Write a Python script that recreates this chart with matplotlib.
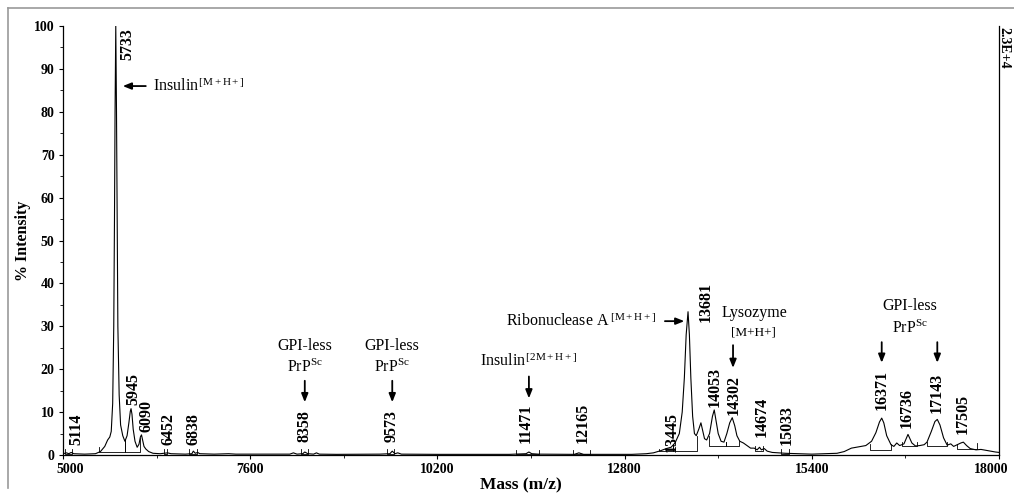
import matplotlib
matplotlib.use("Agg")
import matplotlib.pyplot as plt
import matplotlib.transforms as mtransforms
from matplotlib.lines import Line2D

plt.rcParams["font.family"] = ["Liberation Serif", "DejaVu Serif"]
plt.rcParams["mathtext.fontset"] = "custom"
plt.rcParams["mathtext.rm"] = "Liberation Serif"
plt.rcParams["mathtext.it"] = "Liberation Serif:italic"
plt.rcParams["mathtext.bf"] = "Liberation Serif:bold"

# Spectrum trace: mass (m/z) and % intensity
mass = [5000, 5050, 5080, 5114, 5150, 5300, 5450, 5520, 5580, 5620, 5650, 5670, 5690,
        5705, 5715, 5723, 5733, 5743, 5752, 5762, 5780, 5800, 5830, 5860, 5890, 5915,
        5935, 5945, 5958, 5975, 6000, 6030, 6055, 6075, 6090, 6105, 6125, 6150, 6190,
        6250, 6350, 6452, 6500, 6700, 6790, 6810, 6838, 6870, 6900, 7100, 7300, 7400,
        7600, 8000, 8150, 8200, 8250, 8330, 8358, 8400, 8480, 8520, 8560, 8800, 9400,
        9540, 9573, 9610, 9650, 9700, 10200, 11200, 11430, 11471, 11510, 11600, 12100,
        12165, 12230, 12900, 13100, 13200, 13300, 13380, 13445, 13500, 13560, 13600,
        13630, 13655, 13681, 13700, 13720, 13745, 13770, 13795, 13830, 13860, 13880,
        13910, 13940, 13980, 14020, 14045, 14070, 14100, 14140, 14180, 14220, 14260,
        14295, 14330, 14360, 14400, 14450, 14500, 14550, 14600, 14640, 14674, 14700,
        14740, 14780, 14850, 14950, 15033, 15200, 15400, 15600, 15750, 15850, 15950,
        16050, 16150, 16230, 16290, 16340, 16371, 16400, 16440, 16500, 16540, 16580,
        16620, 16680, 16736, 16790, 16840, 16900, 16960, 17000, 17060, 17110, 17143,
        17180, 17230, 17280, 17330, 17370, 17420, 17470, 17505, 17550, 17600, 17680,
        17750, 17850, 17950, 18000]
intensity = [0.3, 0.5, 0.3, 0.6, 0.3, 0.2, 0.3, 0.8, 2.0, 3.5, 4.2, 5.5, 12,
             30, 55, 80, 100, 80, 55, 30, 14, 7, 4.5, 3.2, 4.5, 7.5,
             10.2, 10.8, 9.5, 6, 3.2, 1.8, 2.5, 4.2, 4.7, 3.5, 2.0, 1.4, 0.8,
             0.4, 0.3, 0.5, 0.3, 0.2, 0.3, 0.9, 0.4, 0.6, 0.3, 0.2, 0.3, 0.2,
             0.2, 0.2, 0.2, 0.5, 0.2, 0.3, 0.7, 0.3, 0.2, 0.5, 0.2, 0.15, 0.2,
             0.3, 0.9, 0.3, 0.5, 0.2, 0.15, 0.15, 0.3, 0.7, 0.3, 0.2, 0.15,
             0.5, 0.15, 0.15, 0.3, 0.5, 1.0, 1.5, 1.8, 2.8, 5, 10,
             18, 28, 33.4, 28, 18, 9, 5, 4.5, 6, 7.5, 6,
             3.8, 3.5, 5, 9, 10.5, 8, 5, 3.2, 3.0, 5, 7.5,
             8.7, 6.8, 4.5, 3.2, 2.8, 2.2, 1.6, 1.6, 1.2, 1.8, 1.2,
             1.5, 0.9, 0.6, 0.5, 0.4, 0.3, 0.2, 0.3, 0.4, 0.8, 1.6,
             1.9, 2.2, 3.2, 5.2, 7.7, 8.6, 7.5, 4.5, 2.4, 2.0, 2.8,
             2.2, 2.6, 4.8, 2.8, 2.1, 2.2, 2.4, 3, 5.5, 7.8, 8.3,
             7, 4, 2.3, 2.6, 2.0, 2.4, 2.8, 3.0, 2.2, 1.5, 1.2,
             1.3, 1.0, 0.7, 0.6]

# Peak labels: text, label x (m/z), label baseline (% intensity)
peak_labels = ["5114", "5733", "5945", "6090", "6452", "6838", "8358", "9573",
               "11471", "12165", "13445", "13681", "14053", "14302", "14674",
               "15033", "16371", "16736", "17143", "17505"]
peak_label_x = [5189, 5889, 5972, 6153, 6461, 6806, 8361, 9565,
                11431, 12222, 13454, 13931, 14056, 14319, 14704,
                15051, 16371, 16718, 17134, 17500]
peak_label_y = [2.3, 92.0, 11.6, 5.4, 2.3, 2.3, 3.1, 3.1,
                2.8, 2.8, 0.8, 31.0, 11.3, 9.3, 4.3,
                2.3, 10.5, 6.3, 9.9, 4.9]

# Peak integration brackets: left m/z, right m/z, base level, left top, right top
brackets = [
    (5030, 5130, 0.2, 1.5, 1.5),
    (5500, 5861, 0.6, 1.8, 3.5),
    (5861, 6069, 0.6, 3.5, 4.0),
    (6403, 6444, 0.3, 1.3, 1.3),
    (6750, 6861, 0.3, 1.3, 1.3),
    (8300, 8400, 0.3, 1.5, 1.5),
    (9500, 9600, 0.3, 1.5, 1.5),
    (11287, 11611, 0.3, 1.2, 1.2),
    (12083, 12319, 0.3, 1.2, 1.2),
    (13278, 13472, 0.9, 1.5, 2.5),
    (13472, 13806, 0.9, 2.5, 4.5),
    (13972, 14210, 2.2, 4.5, 3.0),
    (14210, 14389, 2.2, 3.0, 3.2),
    (14611, 14722, 1.0, 2.0, 2.0),
    (14968, 15083, 0.3, 1.4, 1.4),
    (16208, 16496, 1.2, 2.5, 2.5),
    (16648, 16861, 2.2, 3.0, 3.0),
    (16996, 17274, 2.2, 3.0, 3.0),
    (17417, 17694, 1.4, 2.5, 2.7),
]

x_ticks = [5000, 7600, 10200, 12800, 15400, 18000]
y_ticks = [0, 10, 20, 30, 40, 50, 60, 70, 80, 90, 100]

fig = plt.figure(figsize=(10.14, 4.93), dpi=100)
W, H = 1014, 493
ax = fig.add_axes([63 / W, 38 / H, 936 / W, 429 / H])

ax.plot(mass, intensity, color="black", lw=0.8, solid_joinstyle="round")

for x1, x2, base, h1, h2 in brackets:
    ax.plot([x1, x1, x2, x2], [h1, base, base, h2], color="black", lw=0.6)

for txt, lx, ly in zip(peak_labels, peak_label_x, peak_label_y):
    ax.text(lx, ly, txt, rotation=90, ha="center", va="bottom",
            fontsize=11.5, fontweight="bold", clip_on=False)

ax.set_xlim(5000, 18000)
ax.set_ylim(0, 100)
ax.set_xticks(x_ticks)
ax.set_xticks([6300, 8900, 11500, 14100, 16700], minor=True)
ax.set_yticks(y_ticks)
ax.set_yticks([5, 15, 25, 35, 45, 55, 65, 75, 85, 95], minor=True)
ax.tick_params(axis="both", which="major", length=3, width=0.8, labelsize=10, pad=3)
ax.tick_params(axis="both", which="minor", length=2, width=0.6)
for lab in ax.get_xticklabels() + ax.get_yticklabels():
    lab.set_fontweight("bold")

# nudge the end x tick labels inward, clear of the corners
xlabs = ax.get_xticklabels()
for lab, dx in ((xlabs[0], 7), (xlabs[-1], -8)):
    lab.set_transform(lab.get_transform() +
                      mtransforms.ScaledTranslation(dx / 100, 0, fig.dpi_scale_trans))

ax.spines["top"].set_visible(False)
for s in ("left", "bottom", "right"):
    ax.spines[s].set_linewidth(0.9)

ax.set_xlabel("Mass (m/z)", fontsize=12.5, fontweight="bold")
ax.xaxis.set_label_coords((521 - 63) / 936, -22 / 429)
ax.set_ylabel("% Intensity", fontsize=11.5, fontweight="bold")
ax.yaxis.set_label_coords((31 - 63) / 936, 0.5)

arrow = dict(arrowstyle="-|>,head_length=0.5,head_width=0.2", color="black", lw=1.3,
             shrinkA=0, shrinkB=0)

# Insulin [M+H+]
ax.annotate("", xy=(5830, 86), xytext=(6150, 86), arrowprops=arrow)
ax.text(6250, 86, r"Insulin$^{\,\mathrm{[M+H+]}}$", fontsize=11.5, va="center", ha="left")

# GPI-less PrPSc (middle)
for gx in (8358, 9573):
    ax.text(gx, 25.5, "GPI-less", fontsize=11.5, ha="center", va="center")
    ax.text(gx, 20.5, r"PrP$^{\mathrm{Sc}}$", fontsize=11.5, ha="center", va="center")
    ax.annotate("", xy=(gx, 12.3), xytext=(gx, 17.3), arrowprops=arrow)

# Insulin [2M+H+]
ax.text(11471, 21.8, r"Insulin$^{\,\mathrm{[2M+H+]}}$", fontsize=11.5, ha="center", va="center")
ax.annotate("", xy=(11471, 13.2), xytext=(11471, 18.3), arrowprops=arrow)

# Ribonuclease A [M+H+]
ax.text(13236, 31.2, r"Ribonuclease A$^{\ \mathrm{[M+H+]}}$", fontsize=11.5,
        ha="right", va="center")
ax.annotate("", xy=(13630, 31.2), xytext=(13360, 31.2), arrowprops=arrow)

# Lysozyme [M+H+]
ax.text(14597, 33.1, "Lysozyme", fontsize=11.5, ha="center", va="center")
ax.text(14583, 28.6, "[M+H+]", fontsize=9.5, ha="center", va="center")
ax.annotate("", xy=(14306, 20.3), xytext=(14306, 25.6), arrowprops=arrow)

# GPI-less PrPSc (right)
ax.text(16760, 34.7, "GPI-less", fontsize=11.5, ha="center", va="center")
ax.text(16760, 29.5, r"PrP$^{\mathrm{Sc}}$", fontsize=11.5, ha="center", va="center")
for gx in (16371, 17143):
    ax.annotate("", xy=(gx, 21.5), xytext=(gx, 26.3), arrowprops=arrow)

# Full-scale counts on the right edge
fig.text(1004 / W, 1 - 27 / H, "2.3E+4", rotation=-90, fontsize=10, fontweight="bold",
         ha="center", va="top")

# Outer frame lines
fig.add_artist(Line2D([8 / W, 1.0], [1 - 8 / H, 1 - 8 / H], color="#999999", lw=1.2))
fig.add_artist(Line2D([8 / W, 8 / W], [1 - 8 / H, 1 - 488 / H], color="#999999", lw=1.2))

fig.savefig("out.png", dpi=100)
